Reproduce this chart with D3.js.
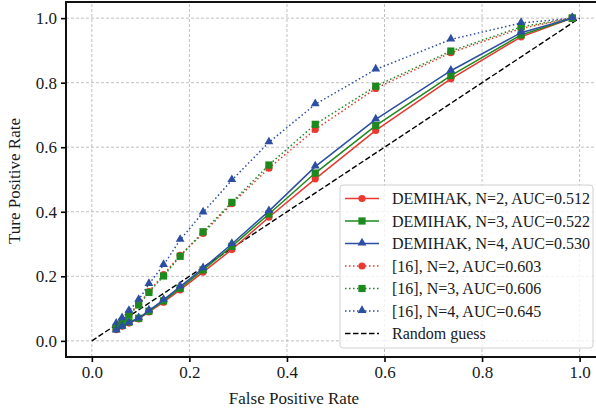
<!doctype html>
<html lang="en">
<head>
<meta charset="utf-8">
<title>ROC curves</title>
<script src="https://cdn.jsdelivr.net/npm/d3@7"></script>
<style>
  body { margin: 0; background: #fff; }
  svg { display: block; }
  svg text { font-family: "Liberation Serif", "Times New Roman", serif; }
</style>
</head>
<body>
<script>
// False positive rates shared by all curves
var fpr = [0.05, 0.062, 0.076, 0.096, 0.117, 0.147, 0.181, 0.228, 0.287, 0.363, 0.458, 0.582, 0.736, 0.88, 0.985];

// True positive rates
var demihakN2 = [0.035, 0.045, 0.055, 0.068, 0.090, 0.120, 0.158, 0.213, 0.283, 0.383, 0.502, 0.652, 0.812, 0.942, 1.0];
var demihakN3 = [0.038, 0.048, 0.058, 0.070, 0.092, 0.124, 0.163, 0.220, 0.293, 0.393, 0.520, 0.667, 0.822, 0.948, 1.0];
var demihakN4 = [0.032, 0.044, 0.055, 0.070, 0.094, 0.127, 0.168, 0.225, 0.300, 0.402, 0.540, 0.686, 0.837, 0.955, 1.0];
var refN2 = [0.045, 0.063, 0.083, 0.113, 0.153, 0.205, 0.265, 0.333, 0.425, 0.535, 0.655, 0.782, 0.893, 0.968, 1.0];
var refN3 = [0.042, 0.060, 0.080, 0.111, 0.150, 0.201, 0.262, 0.338, 0.429, 0.545, 0.671, 0.789, 0.898, 0.973, 1.0];
var refN4 = [0.053, 0.070, 0.093, 0.127, 0.176, 0.235, 0.313, 0.398, 0.498, 0.615, 0.733, 0.841, 0.934, 0.985, 1.0];

var seriesLabels = ["DEMIHAK, N=2, AUC=0.512", "DEMIHAK, N=3, AUC=0.522", "DEMIHAK, N=4, AUC=0.530",
                    "[16], N=2, AUC=0.603", "[16], N=3, AUC=0.606", "[16], N=4, AUC=0.645"];
var randomLabel = "Random guess";
var tickValues = [0, 0.2, 0.4, 0.6, 0.8, 1.0];

var width = 596, height = 411;
var red = "#e8382f", green = "#1c8a1c", blue = "#2c4ea3";

var series = [
  { label: seriesLabels[0], y: demihakN2, color: red,   marker: "circle", dash: null },
  { label: seriesLabels[1], y: demihakN3, color: green, marker: "square", dash: null },
  { label: seriesLabels[2], y: demihakN4, color: blue,  marker: "triangle", dash: null },
  { label: seriesLabels[3], y: refN2, color: red,   marker: "circle", dash: "1.5,2.5" },
  { label: seriesLabels[4], y: refN3, color: green, marker: "square", dash: "1.5,2.5" },
  { label: seriesLabels[5], y: refN4, color: blue,  marker: "triangle", dash: "1.5,2.5" }
];

var x = d3.scaleLinear().domain([-0.053, 1.05]).range([66, 604]);
var y = d3.scaleLinear().domain([-0.05, 1.05]).range([357, 2]);

var svg = d3.select("body").append("svg")
  .attr("width", width)
  .attr("height", height);

// grid
var grid = svg.append("g");
grid.selectAll(".gx").data(tickValues).enter().append("line")
  .attr("x1", d => x(d)).attr("x2", d => x(d))
  .attr("y1", y.range()[0]).attr("y2", y.range()[1])
  .attr("stroke", "#b0b0b0").attr("stroke-width", 0.8).attr("stroke-dasharray", "3,2");
grid.selectAll(".gy").data(tickValues).enter().append("line")
  .attr("y1", d => y(d)).attr("y2", d => y(d))
  .attr("x1", x.range()[0]).attr("x2", x.range()[1])
  .attr("stroke", "#b0b0b0").attr("stroke-width", 0.8).attr("stroke-dasharray", "3,2");

// random guess
svg.append("line")
  .attr("x1", x(0)).attr("y1", y(0)).attr("x2", x(1)).attr("y2", y(1))
  .attr("stroke", "#000").attr("stroke-width", 1.4).attr("stroke-dasharray", "5.5,2.5");

var line = d3.line().x((d, i) => x(fpr[i])).y(d => y(d));

function drawMarker(sel, type, color, cx, cy) {
  if (type === "circle") {
    sel.append("circle").attr("cx", cx).attr("cy", cy).attr("r", 3.6).attr("fill", color);
  } else if (type === "square") {
    sel.append("rect").attr("x", cx - 3.6).attr("y", cy - 3.6).attr("width", 7.2).attr("height", 7.2).attr("fill", color);
  } else {
    var sym = d3.symbol().type(d3.symbolTriangle).size(34);
    sel.append("path").attr("d", sym()).attr("transform", "translate(" + cx + "," + (cy - 0.6) + ")").attr("fill", color);
  }
}

// draw dotted series first, then solid
var order = [3, 4, 5, 0, 1, 2];
order.forEach(function(k) {
  var s = series[k];
  var g = svg.append("g");
  g.append("path").datum(s.y)
    .attr("d", line).attr("fill", "none")
    .attr("stroke", s.color).attr("stroke-width", 1.5)
    .attr("stroke-dasharray", s.dash);
  s.y.forEach(function(v, i) { drawMarker(g, s.marker, s.color, x(fpr[i]), y(v)); });
});

// axes
var xAxis = svg.append("g").attr("transform", "translate(0," + y.range()[0] + ")")
  .call(d3.axisBottom(x).tickValues(tickValues).tickFormat(d3.format(".1f")).tickSizeOuter(0).tickSize(5).tickPadding(4));
var yAxis = svg.append("g").attr("transform", "translate(" + x.range()[0] + ",0)")
  .call(d3.axisLeft(y).tickValues(tickValues).tickFormat(d3.format(".1f")).tickSizeOuter(0).tickSize(5).tickPadding(4));
[xAxis, yAxis].forEach(function(a) {
  a.attr("font-family", null).attr("font-size", null);
  a.select(".domain").remove();
  a.selectAll(".tick line").attr("stroke", "#000").attr("stroke-width", 1.6);
  a.selectAll(".tick text")
    .style("font-family", "'Liberation Serif', 'Times New Roman', serif")
    .style("font-size", "17px").attr("fill", "#1a1a1a");
});

// spines
svg.append("path")
  .attr("d", "M" + x.range()[1] + "," + y.range()[1] + "H" + x.range()[0] + "V" + y.range()[0] + "H" + x.range()[1])
  .attr("fill", "none").attr("stroke", "#111").attr("stroke-width", 2);

// axis labels
svg.append("text").attr("x", 294).attr("y", 404).attr("text-anchor", "middle")
  .attr("font-size", 17).attr("fill", "#1a1a1a").text("False Positive Rate");
svg.append("text").attr("transform", "translate(20,181) rotate(-90)").attr("text-anchor", "middle")
  .attr("font-size", 17).attr("fill", "#1a1a1a").text("Ture Positive Rate");

// legend
var leg = svg.append("g");
leg.append("rect").attr("x", 340).attr("y", 185).attr("width", 253).attr("height", 163)
  .attr("rx", 3).attr("fill", "#fff").attr("fill-opacity", 0.8)
  .attr("stroke", "#d0d0d0").attr("stroke-width", 1);
var legItems = series.map(s => s).concat([{ label: randomLabel, color: "#000", marker: null, dash: "5.5,2.5" }]);
legItems.forEach(function(s, i) {
  var cy = 198.5 + i * 22.5;
  leg.append("line").attr("x1", 345).attr("x2", 379).attr("y1", cy).attr("y2", cy)
    .attr("stroke", s.color).attr("stroke-width", s.marker ? 1.5 : 1.4).attr("stroke-dasharray", s.dash);
  if (s.marker) drawMarker(leg, s.marker, s.color, 362, cy);
  leg.append("text").attr("x", 392).attr("y", cy + 5.5).attr("font-size", 16).attr("fill", "#1a1a1a").text(s.label);
});
</script>
</body>
</html>
